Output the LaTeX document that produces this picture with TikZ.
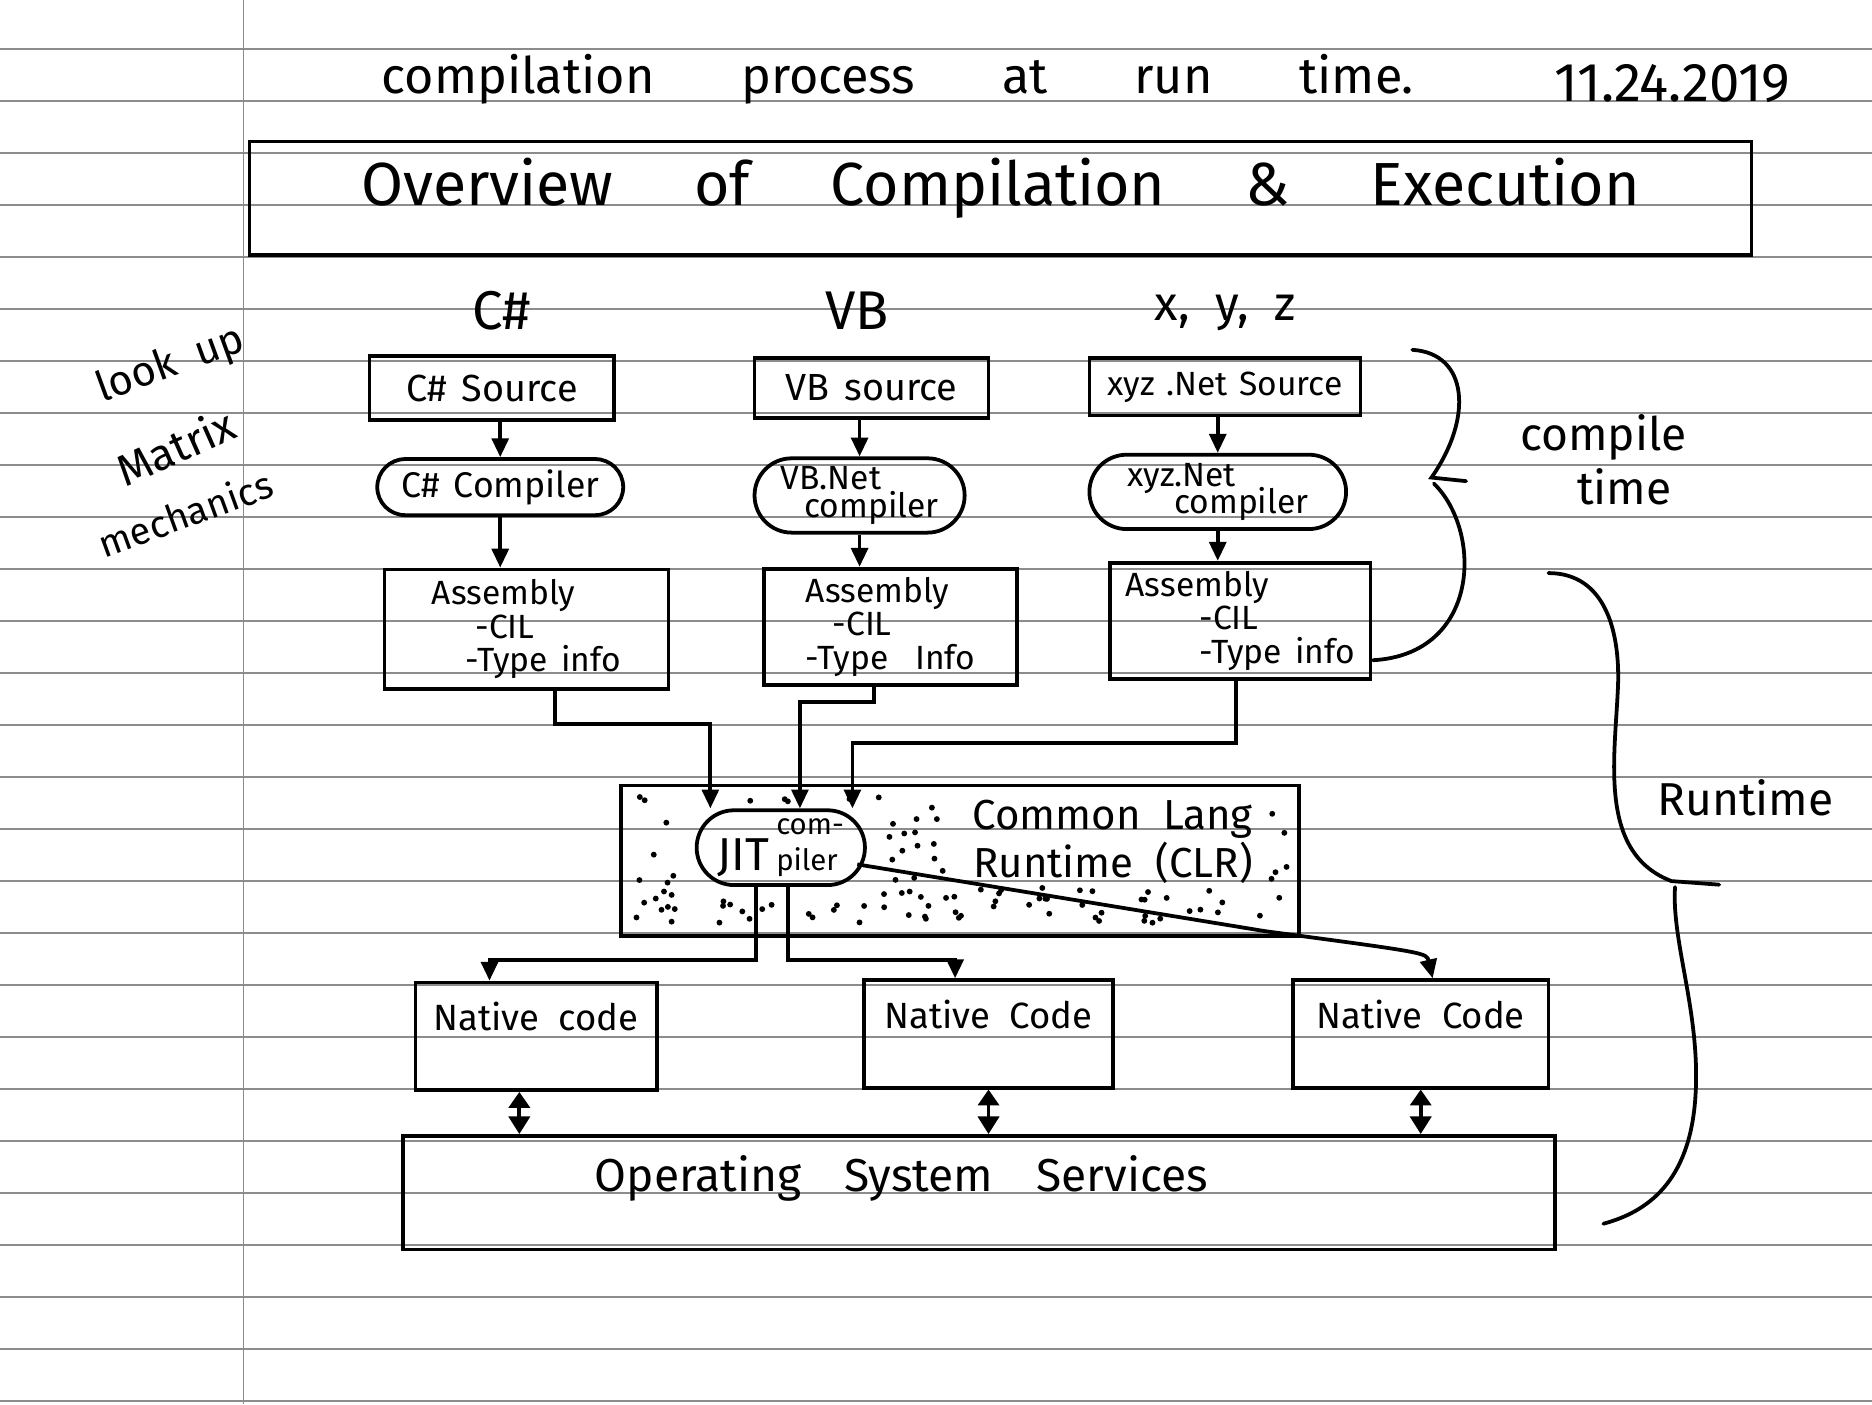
\documentclass[tikz,border=0pt]{standalone}
\usepackage{fontspec}
\setmainfont{Fira Sans}
\usetikzlibrary{positioning,arrows.meta,shapes.misc}

\newcommand\handfont[2]{\fontsize{#1}{#1}\selectfont\spaceskip=#2\fontdimen2\font\relax}
\tikzset{
  rule/.style={draw=black!45, line width=0.35pt},
  hand/.style 2 args={font={\handfont{#1}{#2}}},
  box/.style={draw, line width=0.9pt, inner sep=2pt},
  compiler/.style={box, rounded rectangle, rounded rectangle arc length=180, inner xsep=0pt},
  native/.style={box, hand={8.7}{2}, text depth=9.5pt, minimum height=9mm},
  flow/.style={line width=0.9pt, -{Triangle[length=4.5pt,width=4pt]}},
  twoway/.style={line width=0.9pt, {Triangle[length=3.8pt,width=5pt]}-{Triangle[length=4.2pt,width=5pt]}},
  brace/.style={line width=0.9pt, line cap=round}
}

\begin{document}
\begin{tikzpicture}[x=0.1mm,y=-0.1mm]
\useasboundingbox (0,0) rectangle (1568,1176);
\fill[white] (0,0) rectangle (1568,1176);
% ruled paper
\foreach \k in {0,...,26}
  \draw[rule] (0,{41+43.55*\k}) -- (1568,{41+43.55*\k});
\draw[rule] (204,0) -- (204,1176);

% heading
\node[hand={12}{6.5}] (heading) at (752,66) {compilation process at run time.};
\node[hand={13}{1}] (date) at (1401,70) {11.24.2019};
\node[box, hand={14.5}{5}, minimum width=125.8mm, minimum height=9.5mm, text depth=8pt] (title) at (838,166) {Overview of Compilation \& Execution};

% side note
\node[hand={10}{2}, rotate=20] (lookup) at (143,306) {look up};
\node[hand={10.5}{1}, rotate=24] (matrix) at (147,374) {Matrix};
\node[hand={9}{1}, rotate=20] (mech) at (155,430) {mechanics};

% languages
\node[hand={13}{1}] (cslang) at (420,260) {C\#};
\node[hand={13}{1}] (vblang) at (718,260) {VB};
\node[hand={11.5}{2}] (xyzlang) at (1026,262) {x, y, z};

% sources
\node[box, hand={9}{1.5}, minimum width=20.5mm, minimum height=5.4mm] (cssrc) at (412,325) {C\# Source};
\node[box, hand={9}{1.5}, minimum width=19.6mm, minimum height=5mm] (vbsrc) at (730,325) {VB source};
\node[box, hand={8}{1.3}, minimum width=22.7mm, minimum height=4.8mm] (xyzsrc) at (1026,324) {xyz .Net Source};

% compilers
\node[compiler, hand={8.5}{1.5}, minimum width=20.6mm, minimum height=4.7mm] (cscomp) at (419,408) {C\# Compiler};
\node[compiler, hand={8}{1}, align=left, minimum width=17.6mm, minimum height=4.6mm] (vbcomp) at (720,415) {VB.Net\\[-1.5pt]\hspace*{0.7em}compiler};
\node[compiler, hand={8}{1}, align=left, minimum width=21.5mm, minimum height=4.4mm] (xyzcomp) at (1020,412) {xyz.Net\\[-1.5pt]\hspace*{1.4em}compiler};

% assemblies
\node[box, hand={8}{1.5}, align=left, minimum width=23.8mm, minimum height=10mm] (csasm) at (441,527) {Assembly\\\hspace*{1.3em}-CIL\\\hspace*{1em}-Type info};
\node[box, hand={8}{1.5}, align=left, minimum width=21.2mm, minimum height=9.4mm] (vbasm) at (746,525) {Assembly\\\hspace*{0.8em}-CIL\\-Type\hspace{0.8em}Info};
\node[box, hand={8}{1.5}, align=left, minimum width=21.8mm, minimum height=9.6mm] (xyzasm) at (1039,520) {Assembly\\\hspace*{2.2em}-CIL\\\hspace*{2.2em}-Type info};

\draw[flow] (cssrc.south -| cscomp.north) -- (cscomp.north);
\draw[flow] (cscomp.south) -- (cscomp.south |- csasm.north);
\draw[flow] (vbsrc.south -| vbcomp.north) -- (vbcomp.north);
\draw[flow] (vbcomp.south) -- (vbcomp.south |- vbasm.north);
\draw[flow] (xyzsrc.south -| xyzcomp.north) -- (xyzcomp.north);
\draw[flow] (xyzcomp.south) -- (xyzcomp.south |- xyzasm.north);

% common language runtime
\node[box, minimum width=56.8mm, minimum height=12.6mm] (clr) at (804,721) {};
\foreach \i in {1,...,230}{
  \pgfmathsetmacro{\dx}{530+548*mod(abs(sin(\i*57.31))*437.585,1)}
  \pgfmathsetmacro{\dy}{667+106*mod(abs(cos(\i*41.93))*523.17,1)}
  \pgfmathtruncatemacro{\skipdot}{or(and(and(\dx>568,\dx<740),and(\dy>672,\dy<750)),and(and(\dx>790,\dx<1064),and(\dy>666,\dy<742)))}
  \ifnum\skipdot=0 \fill (\dx,\dy) circle[radius=0.7pt]; \fi
}
\node[hand={10}{2}, align=right] (clrtext) at ([xshift=12.8mm,yshift=1.6mm]clr.center) {Common Lang\\Runtime (CLR)};
\node[compiler, inner xsep=1pt, minimum width=14.8mm, minimum height=5.4mm] (jit) at (654,710)
  {{\fontsize{11}{11}\selectfont JIT}\,{\fontsize{7}{7}\selectfont\shortstack[l]{com-\\piler}}};

\draw[flow] ([xshift=2.4mm]csasm.south) -- ++(0,28) -| ([xshift=-5.9mm]jit.north);
\draw[flow] ([xshift=-1.4mm]vbasm.south) -- ++(0,13) -| ([xshift=1.6mm]jit.north);
\draw[flow] ([xshift=-0.4mm]xyzasm.south) -- ++(0,52) -| ([xshift=6mm]jit.north);

% native code
\node[native, minimum width=20.2mm] (n1) at (449,868) {Native code};
\node[native, minimum width=20.9mm] (n2) at (828,866) {Native Code};
\node[native, minimum width=21.4mm] (n3) at (1190,866) {Native Code};

\draw[flow] ([xshift=-2.1mm]jit.south) -- ++(0,61) -| ([xshift=-3.9mm]n1.north);
\draw[flow] ([xshift=0.6mm]jit.south) -- ++(0,61) -| ([xshift=-2.8mm]n2.north);
\draw[flow] ([xshift=-0.8mm,yshift=-1.4mm]jit.east) -- (1060,780) .. controls (1195,798) .. ([xshift=1mm]n3.north);

% operating system
\node[box, hand={11}{3.5}, minimum width=96.5mm, minimum height=9.5mm, text depth=9pt] (os) at (820,999) {Operating System Services\hspace*{37pt}};

\draw[twoway] ([xshift=-1.4mm]n1.south) -- ([xshift=-1.4mm]n1.south |- os.north);
\draw[twoway] (n2.south) -- (n2.south |- os.north);
\draw[twoway] (n3.south) -- (n3.south |- os.north);

% braces
\draw[brace] (1183,293) .. controls (1230,296) and (1234,350) .. (1199,400) -- (1228,403);
\draw[brace] (1201,405) .. controls (1242,445) and (1240,548) .. (1150,553);
\node[hand={11}{1}, align=center] (compiletime) at (1343,385) {compile\\[2pt]\hspace*{10pt}time};

\draw[brace] (1297,480) .. controls (1345,480) and (1358,530) .. (1355,580) .. controls (1352,640) and (1340,715) .. (1400,738) -- (1440,741);
\draw[brace] (1403,743) .. controls (1400,790) and (1425,850) .. (1420,920) .. controls (1415,990) and (1380,1015) .. (1343,1025);
\node[hand={11}{1}] (runtime) at (1462,668) {Runtime};
\end{tikzpicture}
\end{document}
